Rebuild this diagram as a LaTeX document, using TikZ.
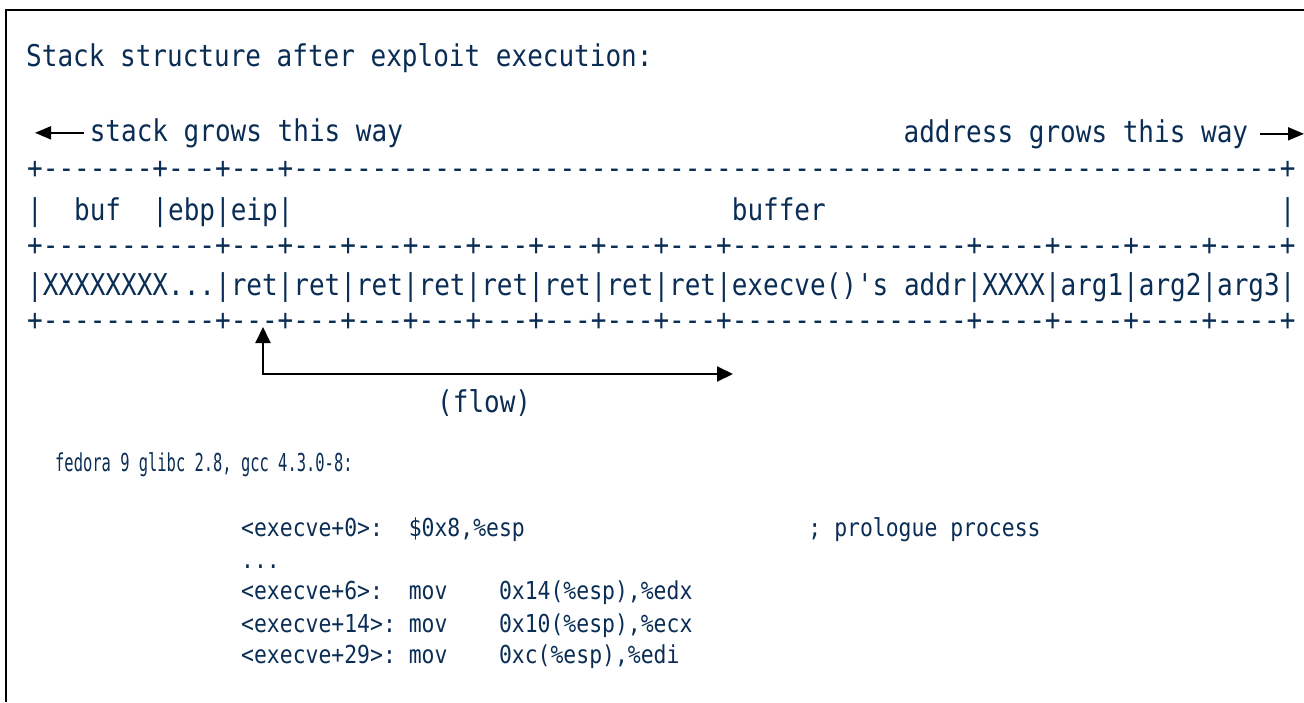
\documentclass[tikz,border=0pt]{standalone}
\usepackage{fontspec}
\setmonofont[FakeStretch=0.867]{DejaVu Sans Mono}
\newfontfamily\codenarrow[FakeStretch=0.625]{DejaVu Sans Mono}
\usetikzlibrary{arrows.meta}
\definecolor{stackNavy}{RGB}{10,45,85}
\newcommand{\blanks}[1]{\hspace*{#1\fontcharwd\font`x}}
\tikzstyle{stackText}=[anchor=base west, inner sep=0pt, text=stackNavy, font=\ttfamily\fontsize{30}{36}\selectfont]
\tikzstyle{codeText}=[anchor=base west, inner sep=0pt, text=stackNavy, font=\ttfamily\fontsize{24.7}{30}\selectfont]
\tikzstyle{growArrow}=[-{Triangle[length=16pt,width=13pt]}, line width=1.8pt]
\tikzstyle{flowArrow}=[{Triangle[length=16pt,width=15pt]}-{Triangle[length=16pt,width=15pt]}, line width=1.9pt]

\begin{document}
\begin{tikzpicture}[x=1pt, y=-1pt]
	\useasboundingbox (0,0) rectangle (1304,702);
	\draw[line width=2pt] (6,702) |- (1304,10);

	\node[stackText] (title) at (26,66) {Stack structure after exploit execution:};

	\node[stackText] (stackGrows) at (89.6,141) {stack grows this way};
	\node[stackText] (addrGrows) at (903.4,142) {address grows this way};
	\coordinate (growLeft) at (35,0);
	\coordinate (growRight) at (1304,0);
	\draw[growArrow, shorten <=6pt] (stackGrows.west) -- (stackGrows.west -| growLeft);
	\draw[growArrow, shorten <=12pt] (addrGrows.east) -- (addrGrows.east -| growRight);

	% stack layout
	\node[stackText] (row1) at (27,178) {+-------+---+---+---------------------------------------------------------------+};
	\node[stackText] (row2) at (27,220) {|\blanks{2}buf\blanks{2}|ebp|eip|\blanks{28}buffer\blanks{29}|};
	\node[stackText] (row3) at (27,255) {+-----------+---+---+---+---+---+---+---+---+---------------+----+----+----+----+};
	\node[stackText] (row4) at (27,295) {|XXXXXXXX...|ret|ret|ret|ret|ret|ret|ret|ret|execve()'s addr|XXXX|arg1|arg2|arg3|};
	\node[stackText] (row5) at (27,330) {+-----------+---+---+---+---+---+---+---+---+---------------+----+----+----+----+};

	\coordinate (retTip) at (263,327);
	\coordinate (execTip) at (733,374);
	\draw[flowArrow] (retTip) |- (execTip);
	\node[stackText] (flowLabel) at (437,412) {(flow)};

	% disassembly
	\node[codeText, font=\codenarrow\fontsize{24.7}{30}\selectfont] (fedora) at (55,471) {fedora 9 glibc 2.8, gcc 4.3.0-8:};
	\node[codeText] (code0) at (241,536) {<execve+0>:\blanks{2}\$0x8,\%esp\blanks{22}; prologue process};
	\node[codeText] (code1) at (241,568) {...};
	\node[codeText] (code2) at (241,599) {<execve+6>:\blanks{2}mov\blanks{4}0x14(\%esp),\%edx};
	\node[codeText] (code3) at (241,632) {<execve+14>: mov\blanks{4}0x10(\%esp),\%ecx};
	\node[codeText] (code4) at (241,663) {<execve+29>: mov\blanks{4}0xc(\%esp),\%edi};
\end{tikzpicture}
\end{document}
